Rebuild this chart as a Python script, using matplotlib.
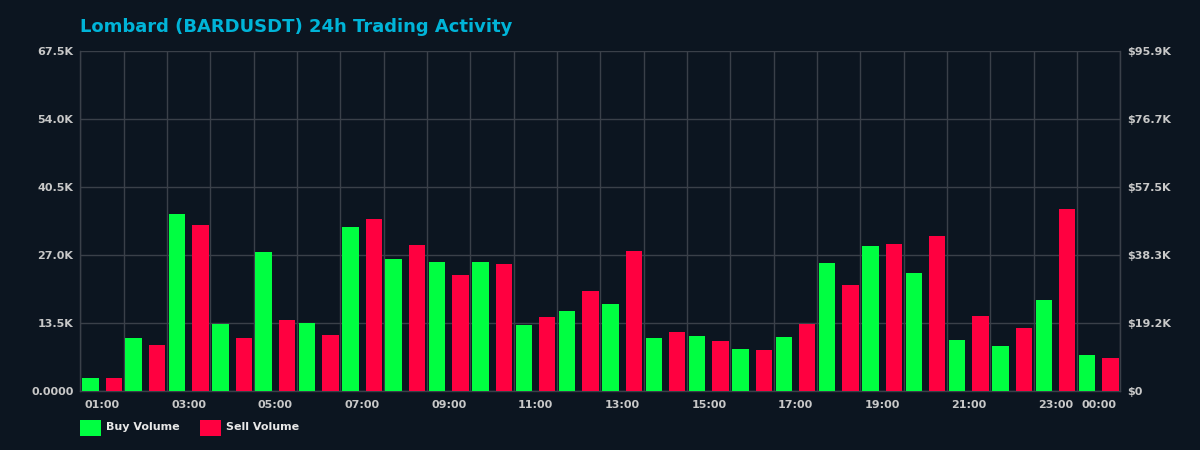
import matplotlib
matplotlib.use("Agg")
import matplotlib.pyplot as plt
from matplotlib.patches import Rectangle
from matplotlib.ticker import FixedLocator, FuncFormatter
import numpy as np

hours = ["01:00", "02:00", "03:00", "04:00", "05:00", "06:00", "07:00", "08:00",
         "09:00", "10:00", "11:00", "12:00", "13:00", "14:00", "15:00", "16:00",
         "17:00", "18:00", "19:00", "20:00", "21:00", "22:00", "23:00", "00:00"]
buy_volume = [2500, 10450, 35050, 13250, 27550, 13450, 32500, 26150,
              25550, 25550, 13050, 15800, 17200, 10450, 10850, 8250,
              10650, 25350, 28700, 23350, 10050, 8850, 18000, 7100]
sell_volume = [2500, 9050, 32900, 10450, 14050, 11050, 34100, 28900,
               22950, 25150, 14600, 19800, 27700, 11650, 9850, 8050,
               13250, 21000, 29100, 30700, 14800, 12450, 36050, 6500]
left_ticks = [0, 13500, 27000, 40500, 54000, 67500]
right_max = 95870
right_ticks = [0, 19174, 38348, 57522, 76696, 95870]

BG = "#0c1520"
GRID = "#3a4049"
GREEN = "#00ff41"
RED = "#ff0040"
TICK = "#c8c8c8"
TITLE = "#00b4d8"

fig = plt.figure(figsize=(12, 4.5), dpi=100, facecolor=BG)
W, H = 1200, 450
x0, x1, ytop, ybot = 80.4, 1120.5, 50.7, 390.7
ax = fig.add_axes([x0 / W, 1 - ybot / H, (x1 - x0) / W, (ybot - ytop) / H])
ax.set_facecolor(BG)

x = np.arange(len(hours))
bw = 0.38
off = 0.27
ax.bar(x - off, buy_volume, width=bw, color=GREEN, zorder=3)
ax.bar(x + off, sell_volume, width=bw, color=RED, zorder=3)

ax.set_xlim(-0.5, len(hours) - 0.5)
ax.set_ylim(0, left_ticks[-1])

label_idx = list(range(0, len(hours) - 1, 2)) + [len(hours) - 1]
ax.xaxis.set_major_locator(FixedLocator(label_idx))
ax.set_xticklabels([hours[i] for i in label_idx])
ax.xaxis.set_minor_locator(FixedLocator(np.arange(-0.5, len(hours), 1.0)))
ax.yaxis.set_major_locator(FixedLocator(left_ticks))

def lfmt(v, p):
    if v == 0:
        return "0.0000"
    return f"{v/1000:.1f}K"
ax.yaxis.set_major_formatter(FuncFormatter(lfmt))

ax.grid(False)
ax.grid(True, which="minor", axis="x", color=GRID, linewidth=1, zorder=0)
ax.grid(True, which="major", axis="y", color=GRID, linewidth=1, zorder=0)
ax.tick_params(axis="both", which="both", length=0, colors=TICK, labelsize=8)
ax.tick_params(axis="x", pad=7)
ax.tick_params(axis="y", pad=5)
for lab in ax.get_xticklabels() + ax.get_yticklabels():
    lab.set_fontweight("bold")
for s in ax.spines.values():
    s.set_color(GRID)
    s.set_linewidth(1)
ax.spines["top"].set_visible(False)

ax2 = ax.twinx()
ax2.set_ylim(0, right_max)
ax2.yaxis.set_major_locator(FixedLocator(right_ticks))
ax2.yaxis.set_major_formatter(FuncFormatter(lambda v, p: "$0" if v == 0 else f"${v/1000:.1f}K"))
ax2.tick_params(axis="y", length=0, colors=TICK, labelsize=8, pad=5)
for lab in ax2.get_yticklabels():
    lab.set_fontweight("bold")
for s in ax2.spines.values():
    s.set_visible(False)
ax2.spines["right"].set_visible(True)
ax2.spines["right"].set_color(GRID)

fig.text(80 / W, 1 - 26.5 / H, "Lombard (BARDUSDT) 24h Trading Activity",
         color=TITLE, fontsize=13, fontweight="bold", ha="left", va="center")

# legend
for (lx, txt, col) in [(80, "Buy Volume", GREEN), (200, "Sell Volume", RED)]:
    fig.add_artist(Rectangle((lx / W, 1 - 436 / H), 21 / W, 16 / H,
                             transform=fig.transFigure, facecolor=col, edgecolor="none"))
    fig.text((lx + 25.5) / W, 1 - 427.5 / H, txt, color="#e8e8e8", fontsize=8,
             fontweight="bold", ha="left", va="center")

fig.savefig("out.png", dpi=100, facecolor=BG)
